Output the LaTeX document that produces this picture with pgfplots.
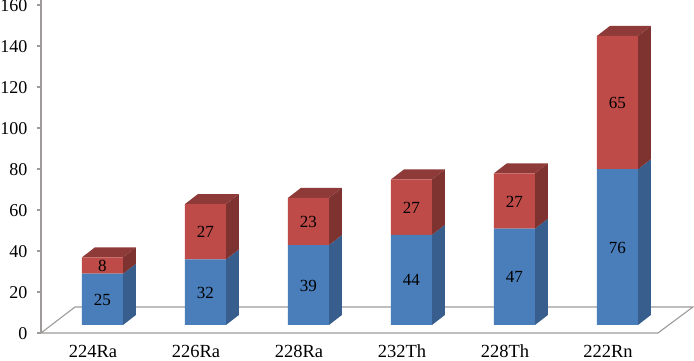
\documentclass[border=0pt]{standalone}
\usepackage{fontspec}
\setmainfont{Liberation Serif}
\usepackage{pgfplots}
\pgfplotsset{compat=1.18}
\definecolor{bfront}{HTML}{4A7EBB}
\definecolor{bside}{HTML}{375E8C}
\definecolor{rfront}{HTML}{BE4B48}
\definecolor{rside}{HTML}{7F3330}
\definecolor{rtop}{HTML}{8E3A38}
\definecolor{axgray}{HTML}{9E9A9A}
\pgfplotsset{
  common/.style={
    at={(0pt,0pt)}, anchor=south west,
    scale only axis, width=653pt, height=333pt,
    xmin=-0.597, xmax=5.743, ymin=0, ymax=162.44,
    clip=false,
  },
  bs/.style={fill=bside,draw=none,yshift=8pt},
  rs/.style={fill=rside,draw=none,yshift=8pt},
  rt/.style={fill=rtop,draw=none,yshift=8pt},
}
\begin{document}
\begin{tikzpicture}
\useasboundingbox (-41pt,-28pt) rectangle (653pt,333pt);
\begin{axis}[common,
  axis x line=bottom, axis y line=left,
  axis line style={-,color=axgray,line width=1.1pt},
  x axis line style={draw=none},
  xtick={0,1,2,3,4,5},
  xticklabels={224Ra,226Ra,228Ra,232Th,228Th,222Rn},
  x tick style={draw=none},
  ytick={0,20,40,60,80,100,120,140,160},
  y tick style={color=axgray,line width=1.1pt},
  tick align=outside,
  major tick length=4pt,
  xticklabel style={font=\fontsize{18.5}{20}\selectfont,xshift=-9.5pt,yshift=-5pt,text height=12pt,text depth=0pt},
  yticklabel style={font=\fontsize{18}{20}\selectfont,xshift=-6pt,yshift=-1pt},
  /pgf/number format/assume math mode=true,
]
% floor
\addplot[draw=axgray,line width=1.1pt,fill=white] coordinates {(-0.597,0)(5.393,0)(5.733,12.7)(-0.267,12.7)(-0.597,0)};
% blue sides
\addplot[bs] coordinates {(0.199,0)(0.325,4.9)(0.325,29.9)(0.199,25)};
\addplot[bs] coordinates {(1.199,0)(1.325,4.9)(1.325,36.9)(1.199,32)};
\addplot[bs] coordinates {(2.199,0)(2.325,4.9)(2.325,43.9)(2.199,39)};
\addplot[bs] coordinates {(3.199,0)(3.325,4.9)(3.325,48.9)(3.199,44)};
\addplot[bs] coordinates {(4.199,0)(4.325,4.9)(4.325,51.9)(4.199,47)};
\addplot[bs] coordinates {(5.199,0)(5.325,4.9)(5.325,80.9)(5.199,76)};
% red sides
\addplot[rs] coordinates {(0.199,25)(0.325,29.9)(0.325,37.9)(0.199,33)};
\addplot[rs] coordinates {(1.199,32)(1.325,36.9)(1.325,63.9)(1.199,59)};
\addplot[rs] coordinates {(2.199,39)(2.325,43.9)(2.325,66.9)(2.199,62)};
\addplot[rs] coordinates {(3.199,44)(3.325,48.9)(3.325,75.9)(3.199,71)};
\addplot[rs] coordinates {(4.199,47)(4.325,51.9)(4.325,78.9)(4.199,74)};
\addplot[rs] coordinates {(5.199,76)(5.325,80.9)(5.325,145.9)(5.199,141)};
% red tops
\addplot[rt] coordinates {(-0.199,33)(-0.073,37.9)(0.325,37.9)(0.199,33)};
\addplot[rt] coordinates {(0.801,59)(0.927,63.9)(1.325,63.9)(1.199,59)};
\addplot[rt] coordinates {(1.801,62)(1.927,66.9)(2.325,66.9)(2.199,62)};
\addplot[rt] coordinates {(2.801,71)(2.927,75.9)(3.325,75.9)(3.199,71)};
\addplot[rt] coordinates {(3.801,74)(3.927,78.9)(4.325,78.9)(4.199,74)};
\addplot[rt] coordinates {(4.801,141)(4.927,145.9)(5.325,145.9)(5.199,141)};
\end{axis}
\begin{axis}[common,
  hide axis,
  ybar stacked, bar width=41pt,
  nodes near coords,
  every node near coord/.append style={
    font=\fontsize{17}{19}\selectfont, text=black, anchor=center,
    yshift=-0.5pt, /pgf/number format/assume math mode=true},
]
\addplot[fill=bfront,draw=none,yshift=8pt] coordinates {(0,25)(1,32)(2,39)(3,44)(4,47)(5,76)};
\addplot[fill=rfront,draw=none,yshift=8pt] coordinates {(0,8)(1,27)(2,23)(3,27)(4,27)(5,65)};
\end{axis}
\end{tikzpicture}
\end{document}
